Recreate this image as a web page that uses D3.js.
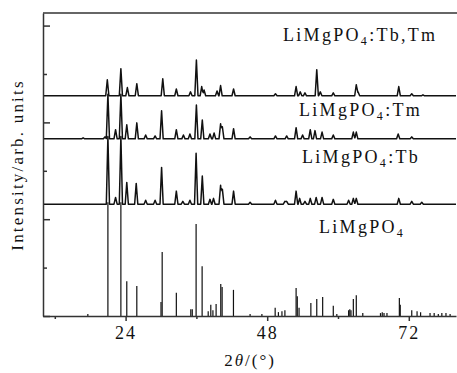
<!DOCTYPE html>
<html>
<head>
<meta charset="utf-8">
<script src="https://cdn.jsdelivr.net/npm/d3@7"></script>
<style>
  body { margin: 0; background: #fff; }
  svg { display: block; }
  text { font-family: "Liberation Serif", "Times New Roman", serif; fill: #111; }
</style>
</head>
<body>
<svg id="chart" width="457" height="373"></svg>
<script>
// 2theta (deg) and peak height (arb. units)
const refSticks = [
  [17.6, 4], [21.0, 235], [23.2, 235], [24.2, 72], [25.9, 62], [30.0, 29], [30.2, 132],
  [32.6, 48], [35.05, 14], [35.3, 14], [35.95, 190], [36.97, 103], [38.0, 10], [38.44, 23],
  [38.8, 12], [39.34, 25], [40.13, 66], [40.36, 60], [42.28, 54], [45.1, 4], [47.1, 4],
  [49.35, 17], [49.9, 8], [50.5, 10], [51.0, 12], [52.9, 58], [53.1, 41], [53.4, 17],
  [55.4, 27], [56.4, 35], [57.4, 39], [59.2, 21], [59.8, 4], [61.8, 12], [62.0, 14],
  [62.2, 12], [62.6, 35], [63.1, 43], [64.2, 6], [67.2, 6], [67.5, 8], [67.8, 6], [68.3, 6],
  [70.4, 37], [70.55, 23], [72.5, 12], [73.4, 10], [74.0, 8], [75.6, 6], [76.3, 6],
  [77.0, 4], [77.6, 6], [78.3, 6], [79.0, 4]
];
const tbPeaks = [
  [21.0, 140], [22.3, 14], [23.2, 140], [24.2, 45], [25.8, 43], [27.4, 8], [29.0, 8],
  [30.1, 76], [32.6, 27], [33.7, 6], [34.9, 8], [35.95, 105], [37.0, 58], [38.3, 10],
  [38.9, 12], [40.1, 39], [40.4, 31], [42.3, 27], [45.1, 4], [49.4, 8], [51.0, 6],
  [51.3, 6], [52.9, 27], [53.5, 12], [54.4, 6], [55.3, 12], [56.3, 14], [57.3, 14],
  [59.2, 10], [61.8, 8], [62.6, 12], [63.1, 12], [70.3, 12], [72.5, 6], [74.2, 4]
];
const tmPeaks = [
  [16.8, 2], [20.5, 4], [21.0, 92], [22.3, 19], [23.2, 92], [24.2, 29], [25.9, 33],
  [27.4, 8], [29.0, 6], [30.1, 58], [32.6, 19], [33.8, 8], [34.9, 10], [36.0, 70],
  [37.0, 39], [38.3, 10], [39.0, 12], [40.1, 31], [40.4, 25], [42.3, 21], [45.1, 4],
  [49.4, 6], [51.3, 6], [52.9, 23], [54.0, 8], [55.3, 19], [56.1, 17], [57.3, 14],
  [59.2, 8], [62.6, 14], [63.1, 14], [70.2, 10], [72.5, 4]
];
const tbTmPeaks = [
  [20.9, 33], [23.2, 56], [24.3, 17], [25.9, 25], [30.3, 35], [32.6, 14], [35.0, 8],
  [36.0, 74], [36.9, 19], [37.3, 12], [39.5, 10], [40.1, 21], [42.3, 14], [49.4, 4],
  [52.9, 19], [53.6, 8], [54.4, 6], [56.4, 54], [57.0, 8], [59.2, 6], [63.1, 23],
  [63.4, 8], [70.3, 19], [72.5, 4], [74.4, 2]
];

// vertical offsets of the stacked patterns
const seriesNames = ["LiMgPO4:Tb", "LiMgPO4:Tm", "LiMgPO4:Tb,Tm"];
const seriesOffsets = [231, 366, 455];

const xTicksMajor = [24, 48, 72];
const xTicksMinor = [12, 36, 60];
const yTicksMajor = [0, 200, 400, 600];
const yTicksMinor = [100, 300, 500];

const svg = d3.select("#chart");
const margin = { top: 13, right: 0, bottom: 57, left: 43 };
const W = 457, H = 373;

const x = d3.scaleLinear().domain([10, 80]).range([margin.left, W - 1]);
const y = d3.scaleLinear().domain([0, 626]).range([H - margin.bottom, margin.top]);

const halfWidth = 0.27;

function profile(peaks) {
  let pts = [10, 80];
  peaks.forEach(p => pts.push(p[0] - halfWidth, p[0], p[0] + halfWidth));
  pts = pts.filter(t => t >= 10 && t <= 80).sort((a, b) => a - b);
  return pts.map(t => {
    let v = 0;
    peaks.forEach(p => {
      const d = Math.abs(t - p[0]);
      if (d < halfWidth) v = Math.max(v, p[1] * (1 - d / halfWidth));
    });
    return [t, v];
  });
}

// reference sticks
svg.append("g")
  .selectAll("line")
  .data(refSticks)
  .join("line")
    .attr("x1", d => x(d[0]))
    .attr("x2", d => x(d[0]))
    .attr("y1", y(0))
    .attr("y2", d => y(d[1]))
    .attr("stroke", "#111")
    .attr("stroke-width", 1.2);

const line = d3.line();
[tbPeaks, tmPeaks, tbTmPeaks].forEach((peaks, i) => {
  const off = seriesOffsets[i];
  svg.append("path")
    .attr("d", line(profile(peaks).map(d => [x(d[0]), y(off + d[1])])))
    .attr("fill", "none")
    .attr("stroke", "#111")
    .attr("stroke-width", 1.5)
    .attr("stroke-linejoin", "round");
});

// axes
const axisColor = "#333";
svg.append("g")
  .attr("transform", `translate(${margin.left},0)`)
  .call(d3.axisRight(y).tickValues(yTicksMajor).tickSize(7).tickSizeOuter(0).tickFormat(""))
  .call(g => g.selectAll("line,path").attr("stroke", axisColor).attr("stroke-width", 1.5));
svg.append("g")
  .attr("transform", `translate(${margin.left},0)`)
  .call(d3.axisRight(y).tickValues(yTicksMinor).tickSize(4).tickFormat(""))
  .call(g => g.select(".domain").remove())
  .call(g => g.selectAll("line").attr("stroke", axisColor).attr("stroke-width", 1.5));

svg.append("g")
  .attr("transform", `translate(0,${y(0)})`)
  .call(d3.axisBottom(x).tickValues(xTicksMajor).tickSize(5).tickSizeOuter(0).tickPadding(5))
  .call(g => g.selectAll("line,path").attr("stroke", axisColor).attr("stroke-width", 1.5))
  .call(g => g.selectAll("text")
    .attr("fill", "#111")
    .style("font-family", "Liberation Serif, serif")
    .style("font-size", "18px")
    .style("letter-spacing", "2px"));
svg.append("g")
  .attr("transform", `translate(0,${y(0)})`)
  .call(d3.axisBottom(x).tickValues(xTicksMinor).tickSize(3).tickFormat(""))
  .call(g => g.select(".domain").remove())
  .call(g => g.selectAll("line").attr("stroke", axisColor).attr("stroke-width", 1.5));

// top frame
svg.append("line")
  .attr("x1", margin.left).attr("x2", W)
  .attr("y1", y.range()[1]).attr("y2", y.range()[1])
  .attr("stroke", axisColor).attr("stroke-width", 1.5);

// series labels
const labels = [
  { base: "LiMgPO", sub: "4", rest: "", x: 319, y: 233 },
  { base: "LiMgPO", sub: "4", rest: ":Tb", x: 302, y: 163 },
  { base: "LiMgPO", sub: "4", rest: ":Tm", x: 299, y: 116 },
  { base: "LiMgPO", sub: "4", rest: ":Tb,Tm", x: 283, y: 41 }
];
labels.forEach(l => {
  const t = svg.append("text")
    .attr("x", l.x).attr("y", l.y)
    .style("font-size", "18px")
    .style("letter-spacing", "2.3px");
  t.append("tspan").text(l.base);
  t.append("tspan").attr("dy", 4).style("font-size", "12px").text(l.sub);
  if (l.rest) t.append("tspan").attr("dy", -4).text(l.rest);
});

// axis titles
const xt = svg.append("text")
  .attr("x", 250).attr("y", 366)
  .attr("text-anchor", "middle")
  .style("font-size", "17px")
  .style("letter-spacing", "2px");
xt.append("tspan").text("2");
xt.append("tspan").style("font-style", "italic").text("θ");
xt.append("tspan").text("/(°)");

svg.append("text")
  .attr("transform", "translate(23,165) rotate(-90)")
  .attr("text-anchor", "middle")
  .style("font-size", "17px")
  .style("letter-spacing", "2.2px")
  .text("Intensity/arb. units");
</script>
</body>
</html>
